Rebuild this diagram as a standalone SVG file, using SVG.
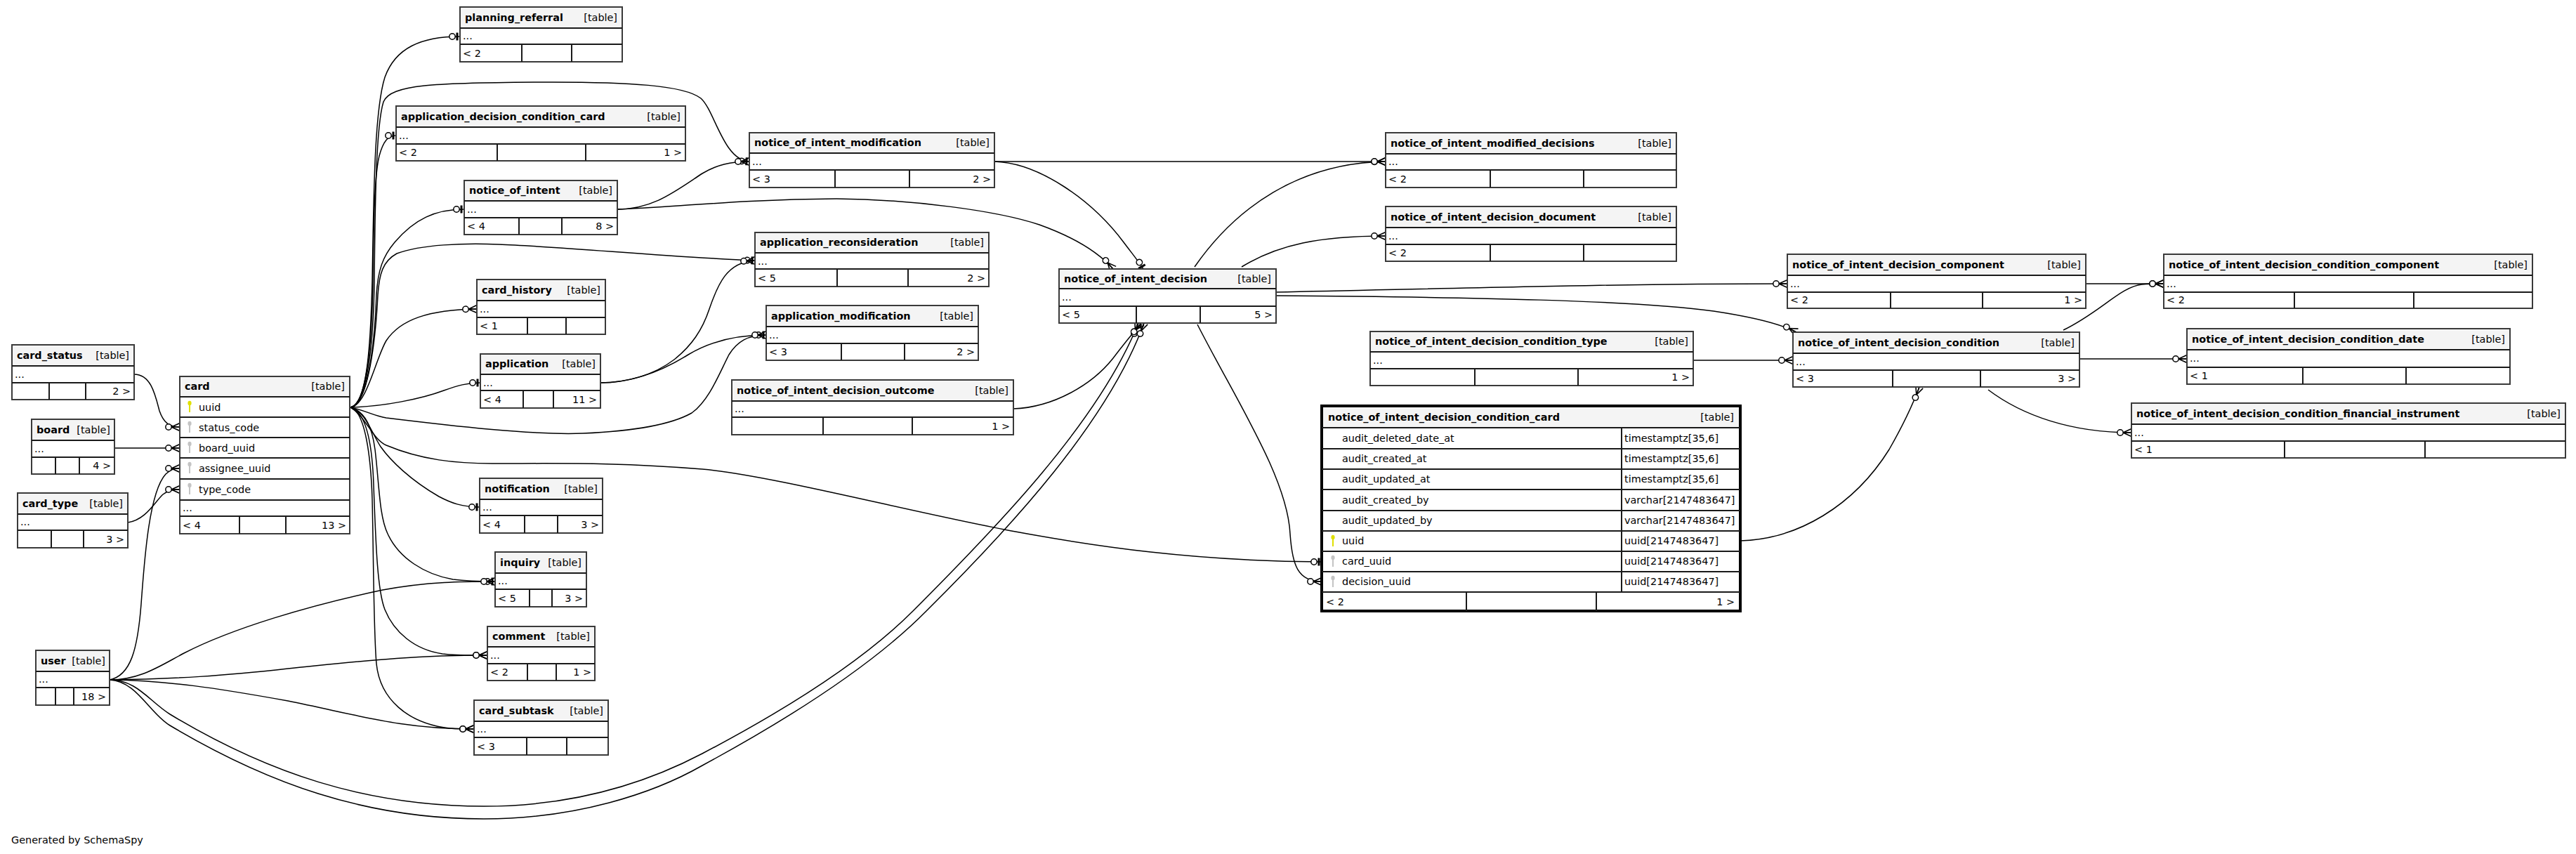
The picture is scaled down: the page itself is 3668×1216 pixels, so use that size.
<svg xmlns="http://www.w3.org/2000/svg" width="3668" height="1216" viewBox="0 0 3668 1216">
<style>
.box{fill:#fff;stroke:#3a3a3a;stroke-width:2}
.sel{fill:#fff;stroke:#000;stroke-width:4}
.hdr{fill:#f4f4f4}
.ln{stroke:#1a1a1a;stroke-width:2}
.t{font-family:"DejaVu Sans",sans-serif;font-size:14.4px;fill:#000}
.b{font-weight:bold}
.r{text-anchor:end}
.e{fill:none;stroke:#000;stroke-width:1.5}
.pk{fill:#e0e000}
.fk{fill:#c4c4c4}
</style>
<defs>
<marker id="crow" markerUnits="userSpaceOnUse" orient="auto" overflow="visible" markerWidth="1" markerHeight="1" refX="0" refY="0">
<path d="M-12,0 L0,-5.5 M-12,0 L0,0 M-12,0 L0,5.5" fill="none" stroke="#000" stroke-width="1.6"/>
<circle cx="-16" cy="0" r="4.2" fill="#fff" stroke="#000" stroke-width="1.5"/>
</marker>
<marker id="tee" markerUnits="userSpaceOnUse" orient="auto" overflow="visible" markerWidth="1" markerHeight="1" refX="0" refY="0">
<path d="M-4,-5.5 L-4,5.5" fill="none" stroke="#000" stroke-width="3"/>
<circle cx="-11" cy="0" r="4.2" fill="#fff" stroke="#000" stroke-width="1.5"/>
</marker>
</defs>
<rect x="0" y="0" width="3668" height="1216" fill="#fff"/>

<g id="connectors">
<path class="e" marker-end="url(#tee)" d="M499,580 C524,576 528,480 530,400 C532,300 532,160 548,110 C563,68 600,52 655,52"/>
<path class="e" marker-end="url(#tee)" d="M499,580 C523,576 530,480 531,400 C532,320 533,250 540,222 C546,200 553,193 564,193"/>
<path class="e" marker-end="url(#tee)" d="M499,580 C524,576 532,480 533,400 C534,300 535,180 546,145 C556,120 620,118 760,117 C900,116 975,122 998,140 C1018,158 1030,228 1067,230"/>
<path class="e" marker-end="url(#tee)" d="M499,580 C525,576 534,480 536,420 C538,385 545,365 562,345 C590,312 620,298 661,298"/>
<path class="e" marker-end="url(#tee)" d="M499,580 C525,576 535,480 538,420 C540,390 545,372 565,361 C600,348 660,346 710,348 C800,351 950,366 1075,371"/>
<path class="e" marker-end="url(#crow)" d="M499,580 C522,578 535,510 550,485 C570,455 610,441 679,440"/>
<path class="e" marker-end="url(#tee)" d="M499,580 C545,579 600,568 632,556 C652,549 665,545 684,545"/>
<path class="e" marker-end="url(#tee)" d="M499,580 C522,585 532,592 550,595 C640,606 760,620 830,617 C900,614 955,605 985,588 C1010,570 1025,530 1038,505 C1050,486 1065,477 1091,477"/>
<path class="e" marker-end="url(#tee)" d="M499,580 C520,592 530,625 550,634 C600,655 650,660 701,660 C800,660 880,658 1000,668 C1100,677 1300,730 1446,757 C1560,778 1700,799 1882,800"/>
<path class="e" marker-end="url(#tee)" d="M499,580 C520,585 530,618 542,636 C556,656 585,684 625,707 C642,716 658,722 683,722"/>
<path class="e" marker-end="url(#tee)" d="M499,580 C521,586 530,610 534,640 C540,690 540,735 552,760 C568,795 605,818 645,825 C668,828 685,828 705,828"/>
<path class="e" marker-end="url(#crow)" d="M499,580 C521,586 530,630 532,690 C535,770 537,840 548,868 C561,900 590,925 630,931 C655,934 675,933 694,933"/>
<path class="e" marker-end="url(#crow)" d="M499,580 C520,586 528,650 530,710 C532,800 532,900 536,945 C541,995 580,1030 640,1037 C655,1038 665,1038 675,1038"/>
<path class="e" marker-end="url(#crow)" d="M191,533 C215,533 221,562 227,585 C233,602 241,608 256,608"/>
<path class="e" marker-end="url(#crow)" d="M163,638 L256,638"/>
<path class="e" marker-end="url(#crow)" d="M182,744 C208,740 220,715 232,704 C240,698 246,697 256,697"/>
<path class="e" marker-end="url(#crow)" d="M156,968 C186,962 196,925 201,860 C206,790 213,700 236,675 C243,668 249,667 256,667"/>
<path class="e" marker-end="url(#crow)" d="M156,968 C200,968 228,948 262,930 C330,895 440,862 545,840 C610,828 660,828 705,828"/>
<path class="e" marker-end="url(#crow)" d="M156,968 C250,967 320,962 410,952 C510,942 580,933 694,933"/>
<path class="e" marker-end="url(#crow)" d="M156,968 C240,969 310,980 410,998 C510,1018 570,1038 675,1038"/>
<path class="e" marker-end="url(#crow)" d="M156,968 C195,968 212,998 242,1017 C380,1100 520,1148 689,1148 C820,1148 920,1115 1000,1073 C1120,1010 1230,940 1300,870 C1420,750 1565,600 1621,460"/>
<path class="e" marker-end="url(#crow)" d="M156,968 C195,970 212,1015 242,1033 C380,1115 520,1166 689,1166 C820,1166 930,1130 1000,1090 C1120,1025 1240,950 1319,870 C1440,750 1578,600 1629,460"/>
<path class="e" marker-end="url(#crow)" d="M1443,582 C1500,580 1555,548 1585,510 C1600,490 1615,472 1625,460"/>
<path class="e" marker-end="url(#crow)" d="M1705,462 C1760,570 1833,680 1837,760 C1840,805 1848,828 1882,828"/>
<path class="e" marker-end="url(#crow)" d="M1701,380 C1760,295 1850,232 1973,230"/>
<path class="e" marker-end="url(#crow)" d="M1416,230 L1973,230"/>
<path class="e" marker-end="url(#tee)" d="M1416,230 C1480,232 1555,285 1600,345 C1612,361 1622,373 1628,383"/>
<path class="e" marker-end="url(#crow)" d="M879,298 C950,296 1050,284 1191,283 C1300,284 1420,300 1480,320 C1530,338 1563,358 1585,383"/>
<path class="e" marker-end="url(#crow)" d="M879,298 C930,298 962,272 1000,247 C1020,235 1040,230 1067,230"/>
<path class="e" marker-end="url(#crow)" d="M1768,380 C1820,348 1880,336 1973,336"/>
<path class="e" marker-end="url(#crow)" d="M1817,416 C2100,410 2300,404 2545,404"/>
<path class="e" marker-end="url(#crow)" d="M1817,421 C2100,423 2330,428 2440,443 C2500,452 2535,461 2558,473"/>
<path class="e" marker-end="url(#crow)" d="M2411,513 L2553,513"/>
<path class="e" marker-end="url(#crow)" d="M2970,404 L3081,404"/>
<path class="e" marker-end="url(#crow)" d="M2938,470 C2990,445 3020,408 3050,405 C3060,404 3070,404 3081,404"/>
<path class="e" marker-end="url(#crow)" d="M2961,511 L3114,511"/>
<path class="e" marker-end="url(#crow)" d="M2831,555 C2880,592 2950,616 3035,616"/>
<path class="e" marker-end="url(#crow)" d="M2478,770 C2560,768 2640,720 2690,640 C2710,605 2724,575 2733,551"/>
<path class="e" marker-end="url(#crow)" d="M855,545 C890,545 930,535 960,512 C985,492 1000,470 1010,440 C1022,405 1035,373 1075,371"/>
<path class="e" marker-end="url(#crow)" d="M855,545 C900,545 940,530 980,505 C1010,487 1045,477 1091,477"/>
</g>

<g id="planning_referral">
<rect class="box" x="655" y="10" width="231" height="78"/><rect class="hdr" x="656" y="11" width="229" height="29"/>
<line class="ln" x1="655" y1="40" x2="886" y2="40"/><line class="ln" x1="655" y1="63" x2="886" y2="63"/>
<line class="ln" x1="743" y1="63" x2="743" y2="88"/><line class="ln" x1="814" y1="63" x2="814" y2="88"/>
<text class="t b" x="662" y="30">planning_referral</text><text class="t r" x="879" y="30">[table]</text>
<text class="t" x="659" y="56">...</text><text class="t" x="659" y="81">&lt; 2</text>
</g>

<g id="application_decision_condition_card">
<rect class="box" x="564" y="151" width="412" height="78"/><rect class="hdr" x="565" y="152" width="410" height="29"/>
<line class="ln" x1="564" y1="181" x2="976" y2="181"/><line class="ln" x1="564" y1="205" x2="976" y2="205"/>
<line class="ln" x1="708" y1="205" x2="708" y2="229"/><line class="ln" x1="834" y1="205" x2="834" y2="229"/>
<text class="t b" x="571" y="171">application_decision_condition_card</text><text class="t r" x="969" y="171">[table]</text>
<text class="t" x="568" y="198">...</text><text class="t" x="568" y="222">&lt; 2</text><text class="t r" x="971" y="222">1 &gt;</text>
</g>

<g id="notice_of_intent">
<rect class="box" x="661" y="257" width="218" height="77"/><rect class="hdr" x="662" y="258" width="216" height="28"/>
<line class="ln" x1="661" y1="286" x2="879" y2="286"/><line class="ln" x1="661" y1="310" x2="879" y2="310"/>
<line class="ln" x1="739" y1="310" x2="739" y2="334"/><line class="ln" x1="800" y1="310" x2="800" y2="334"/>
<text class="t b" x="668" y="276">notice_of_intent</text><text class="t r" x="872" y="276">[table]</text>
<text class="t" x="665" y="303">...</text><text class="t" x="665" y="327">&lt; 4</text><text class="t r" x="874" y="327">8 &gt;</text>
</g>

<g id="card_history">
<rect class="box" x="679" y="398" width="183" height="78"/><rect class="hdr" x="680" y="399" width="181" height="29"/>
<line class="ln" x1="679" y1="428" x2="862" y2="428"/><line class="ln" x1="679" y1="452" x2="862" y2="452"/>
<line class="ln" x1="751" y1="452" x2="751" y2="476"/><line class="ln" x1="806" y1="452" x2="806" y2="476"/>
<text class="t b" x="686" y="418">card_history</text><text class="t r" x="855" y="418">[table]</text>
<text class="t" x="683" y="445">...</text><text class="t" x="683" y="469">&lt; 1</text>
</g>

<g id="application">
<rect class="box" x="684" y="504" width="171" height="77"/><rect class="hdr" x="685" y="505" width="169" height="28"/>
<line class="ln" x1="684" y1="533" x2="855" y2="533"/><line class="ln" x1="684" y1="556" x2="855" y2="556"/>
<line class="ln" x1="745" y1="556" x2="745" y2="581"/><line class="ln" x1="788" y1="556" x2="788" y2="581"/>
<text class="t b" x="691" y="523">application</text><text class="t r" x="848" y="523">[table]</text>
<text class="t" x="688" y="550">...</text><text class="t" x="688" y="574">&lt; 4</text><text class="t r" x="850" y="574">11 &gt;</text>
</g>

<g id="notification">
<rect class="box" x="683" y="681" width="175" height="78"/><rect class="hdr" x="684" y="682" width="173" height="29"/>
<line class="ln" x1="683" y1="711" x2="858" y2="711"/><line class="ln" x1="683" y1="734" x2="858" y2="734"/>
<line class="ln" x1="747" y1="734" x2="747" y2="759"/><line class="ln" x1="794" y1="734" x2="794" y2="759"/>
<text class="t b" x="690" y="701">notification</text><text class="t r" x="851" y="701">[table]</text>
<text class="t" x="687" y="727">...</text><text class="t" x="687" y="752">&lt; 4</text><text class="t r" x="853" y="752">3 &gt;</text>
</g>

<g id="inquiry">
<rect class="box" x="705" y="786" width="130" height="78"/><rect class="hdr" x="706" y="787" width="128" height="29"/>
<line class="ln" x1="705" y1="816" x2="835" y2="816"/><line class="ln" x1="705" y1="839" x2="835" y2="839"/>
<line class="ln" x1="754" y1="839" x2="754" y2="864"/><line class="ln" x1="786" y1="839" x2="786" y2="864"/>
<text class="t b" x="712" y="806">inquiry</text><text class="t r" x="828" y="806">[table]</text>
<text class="t" x="709" y="832">...</text><text class="t" x="709" y="857">&lt; 5</text><text class="t r" x="830" y="857">3 &gt;</text>
</g>

<g id="comment">
<rect class="box" x="694" y="892" width="153" height="77"/><rect class="hdr" x="695" y="893" width="151" height="28"/>
<line class="ln" x1="694" y1="921" x2="847" y2="921"/><line class="ln" x1="694" y1="945" x2="847" y2="945"/>
<line class="ln" x1="751" y1="945" x2="751" y2="969"/><line class="ln" x1="792" y1="945" x2="792" y2="969"/>
<text class="t b" x="701" y="911">comment</text><text class="t r" x="840" y="911">[table]</text>
<text class="t" x="698" y="938">...</text><text class="t" x="698" y="962">&lt; 2</text><text class="t r" x="842" y="962">1 &gt;</text>
</g>

<g id="card_subtask">
<rect class="box" x="675" y="997" width="191" height="78"/><rect class="hdr" x="676" y="998" width="189" height="29"/>
<line class="ln" x1="675" y1="1027" x2="866" y2="1027"/><line class="ln" x1="675" y1="1050" x2="866" y2="1050"/>
<line class="ln" x1="750" y1="1050" x2="750" y2="1075"/><line class="ln" x1="807" y1="1050" x2="807" y2="1075"/>
<text class="t b" x="682" y="1017">card_subtask</text><text class="t r" x="859" y="1017">[table]</text>
<text class="t" x="679" y="1043">...</text><text class="t" x="679" y="1068">&lt; 3</text>
</g>

<g id="card_status">
<rect class="box" x="17" y="491" width="174" height="78"/><rect class="hdr" x="18" y="492" width="172" height="29"/>
<line class="ln" x1="17" y1="521" x2="191" y2="521"/><line class="ln" x1="17" y1="545" x2="191" y2="545"/>
<line class="ln" x1="70" y1="545" x2="70" y2="569"/><line class="ln" x1="122" y1="545" x2="122" y2="569"/>
<text class="t b" x="24" y="511">card_status</text><text class="t r" x="184" y="511">[table]</text>
<text class="t" x="21" y="538">...</text><text class="t r" x="186" y="562">2 &gt;</text>
</g>

<g id="board">
<rect class="box" x="45" y="597" width="118" height="78"/><rect class="hdr" x="46" y="598" width="116" height="29"/>
<line class="ln" x1="45" y1="627" x2="163" y2="627"/><line class="ln" x1="45" y1="651" x2="163" y2="651"/>
<line class="ln" x1="79" y1="651" x2="79" y2="675"/><line class="ln" x1="113" y1="651" x2="113" y2="675"/>
<text class="t b" x="52" y="617">board</text><text class="t r" x="157" y="617">[table]</text>
<text class="t" x="49" y="644">...</text><text class="t r" x="158" y="668">4 &gt;</text>
</g>

<g id="card_type">
<rect class="box" x="25" y="702" width="157" height="78"/><rect class="hdr" x="26" y="703" width="155" height="29"/>
<line class="ln" x1="25" y1="732" x2="182" y2="732"/><line class="ln" x1="25" y1="755" x2="182" y2="755"/>
<line class="ln" x1="73" y1="755" x2="73" y2="780"/><line class="ln" x1="119" y1="755" x2="119" y2="780"/>
<text class="t b" x="32" y="722">card_type</text><text class="t r" x="175" y="722">[table]</text>
<text class="t" x="29" y="748">...</text><text class="t r" x="177" y="773">3 &gt;</text>
</g>

<g id="user">
<rect class="box" x="51" y="926" width="105" height="78"/><rect class="hdr" x="52" y="927" width="103" height="29"/>
<line class="ln" x1="51" y1="956" x2="156" y2="956"/><line class="ln" x1="51" y1="979" x2="156" y2="979"/>
<line class="ln" x1="79" y1="979" x2="79" y2="1004"/><line class="ln" x1="105" y1="979" x2="105" y2="1004"/>
<text class="t b" x="58" y="946">user</text><text class="t r" x="150" y="946">[table]</text>
<text class="t" x="55" y="972">...</text><text class="t r" x="151" y="997">18 &gt;</text>
</g>

<g id="card">
<rect class="box" x="256" y="536" width="242" height="224"/><rect class="hdr" x="257" y="537" width="240" height="28"/>
<line class="ln" x1="256" y1="565" x2="498" y2="565"/><line class="ln" x1="256" y1="594" x2="498" y2="594"/>
<line class="ln" x1="256" y1="623" x2="498" y2="623"/><line class="ln" x1="256" y1="652" x2="498" y2="652"/>
<line class="ln" x1="256" y1="682" x2="498" y2="682"/><line class="ln" x1="256" y1="712" x2="498" y2="712"/>
<line class="ln" x1="256" y1="735" x2="498" y2="735"/>
<line class="ln" x1="341" y1="735" x2="341" y2="760"/><line class="ln" x1="407" y1="735" x2="407" y2="760"/>
<text class="t b" x="263" y="555">card</text><text class="t r" x="491" y="555">[table]</text>
<ellipse class="pk" cx="270" cy="574" rx="2.6" ry="3.2"/><rect class="pk" x="269" y="576" width="2" height="11"/>
<text class="t" x="283" y="585">uuid</text>
<ellipse class="fk" cx="270" cy="603" rx="2.6" ry="3.2"/><rect class="fk" x="269" y="605" width="2" height="11"/>
<text class="t" x="283" y="614">status_code</text>
<ellipse class="fk" cx="270" cy="632" rx="2.6" ry="3.2"/><rect class="fk" x="269" y="634" width="2" height="11"/>
<text class="t" x="283" y="643">board_uuid</text>
<ellipse class="fk" cx="270" cy="661" rx="2.6" ry="3.2"/><rect class="fk" x="269" y="663" width="2" height="11"/>
<text class="t" x="283" y="672">assignee_uuid</text>
<ellipse class="fk" cx="270" cy="691" rx="2.6" ry="3.2"/><rect class="fk" x="269" y="693" width="2" height="11"/>
<text class="t" x="283" y="702">type_code</text>
<text class="t" x="260" y="728">...</text>
<text class="t" x="260" y="753">&lt; 4</text><text class="t r" x="493" y="753">13 &gt;</text>
</g>

<g id="notice_of_intent_modification">
<rect class="box" x="1067" y="189" width="349" height="78"/><rect class="hdr" x="1068" y="190" width="347" height="28"/>
<line class="ln" x1="1067" y1="218" x2="1416" y2="218"/><line class="ln" x1="1067" y1="242" x2="1416" y2="242"/>
<line class="ln" x1="1189" y1="242" x2="1189" y2="267"/><line class="ln" x1="1295" y1="242" x2="1295" y2="267"/>
<text class="t b" x="1074" y="208">notice_of_intent_modification</text><text class="t r" x="1409" y="208">[table]</text>
<text class="t" x="1071" y="235">...</text><text class="t" x="1071" y="260">&lt; 3</text><text class="t r" x="1411" y="260">2 &gt;</text>
</g>

<g id="application_reconsideration">
<rect class="box" x="1075" y="331" width="333" height="77"/><rect class="hdr" x="1076" y="332" width="331" height="28"/>
<line class="ln" x1="1075" y1="360" x2="1408" y2="360"/><line class="ln" x1="1075" y1="383" x2="1408" y2="383"/>
<line class="ln" x1="1192" y1="383" x2="1192" y2="408"/><line class="ln" x1="1293" y1="383" x2="1293" y2="408"/>
<text class="t b" x="1082" y="350">application_reconsideration</text><text class="t r" x="1401" y="350">[table]</text>
<text class="t" x="1079" y="377">...</text><text class="t" x="1079" y="401">&lt; 5</text><text class="t r" x="1403" y="401">2 &gt;</text>
</g>

<g id="application_modification">
<rect class="box" x="1091" y="435" width="302" height="78"/><rect class="hdr" x="1092" y="436" width="300" height="29"/>
<line class="ln" x1="1091" y1="465" x2="1393" y2="465"/><line class="ln" x1="1091" y1="489" x2="1393" y2="489"/>
<line class="ln" x1="1198" y1="489" x2="1198" y2="513"/><line class="ln" x1="1288" y1="489" x2="1288" y2="513"/>
<text class="t b" x="1098" y="455">application_modification</text><text class="t r" x="1386" y="455">[table]</text>
<text class="t" x="1095" y="482">...</text><text class="t" x="1095" y="506">&lt; 3</text><text class="t r" x="1388" y="506">2 &gt;</text>
</g>

<g id="notice_of_intent_decision_outcome">
<rect class="box" x="1042" y="541" width="401" height="78"/><rect class="hdr" x="1043" y="542" width="399" height="29"/>
<line class="ln" x1="1042" y1="571" x2="1443" y2="571"/><line class="ln" x1="1042" y1="594" x2="1443" y2="594"/>
<line class="ln" x1="1172" y1="594" x2="1172" y2="619"/><line class="ln" x1="1299" y1="594" x2="1299" y2="619"/>
<text class="t b" x="1049" y="561">notice_of_intent_decision_outcome</text><text class="t r" x="1436" y="561">[table]</text>
<text class="t" x="1046" y="587">...</text><text class="t r" x="1438" y="612">1 &gt;</text>
</g>

<g id="notice_of_intent_decision">
<rect class="box" x="1508" y="383" width="309" height="77"/><rect class="hdr" x="1509" y="384" width="307" height="27"/>
<line class="ln" x1="1508" y1="411" x2="1817" y2="411"/><line class="ln" x1="1508" y1="436" x2="1817" y2="436"/>
<line class="ln" x1="1618" y1="436" x2="1618" y2="460"/><line class="ln" x1="1709" y1="436" x2="1709" y2="460"/>
<text class="t b" x="1515" y="402">notice_of_intent_decision</text><text class="t r" x="1810" y="402">[table]</text>
<text class="t" x="1512" y="428">...</text><text class="t" x="1512" y="453">&lt; 5</text><text class="t r" x="1812" y="453">5 &gt;</text>
</g>

<g id="notice_of_intent_modified_decisions">
<rect class="box" x="1973" y="189" width="414" height="78"/><rect class="hdr" x="1974" y="190" width="412" height="29"/>
<line class="ln" x1="1973" y1="219" x2="2387" y2="219"/><line class="ln" x1="1973" y1="242" x2="2387" y2="242"/>
<line class="ln" x1="2122" y1="242" x2="2122" y2="267"/><line class="ln" x1="2255" y1="242" x2="2255" y2="267"/>
<text class="t b" x="1980" y="209">notice_of_intent_modified_decisions</text><text class="t r" x="2380" y="209">[table]</text>
<text class="t" x="1977" y="235">...</text><text class="t" x="1977" y="260">&lt; 2</text>
</g>

<g id="notice_of_intent_decision_document">
<rect class="box" x="1973" y="294" width="414" height="78"/><rect class="hdr" x="1974" y="295" width="412" height="29"/>
<line class="ln" x1="1973" y1="324" x2="2387" y2="324"/><line class="ln" x1="1973" y1="348" x2="2387" y2="348"/>
<line class="ln" x1="2122" y1="348" x2="2122" y2="372"/><line class="ln" x1="2255" y1="348" x2="2255" y2="372"/>
<text class="t b" x="1980" y="314">notice_of_intent_decision_document</text><text class="t r" x="2380" y="314">[table]</text>
<text class="t" x="1977" y="341">...</text><text class="t" x="1977" y="365">&lt; 2</text>
</g>

<g id="notice_of_intent_decision_condition_type">
<rect class="box" x="1951" y="472" width="460" height="77"/><rect class="hdr" x="1952" y="473" width="458" height="28"/>
<line class="ln" x1="1951" y1="501" x2="2411" y2="501"/><line class="ln" x1="1951" y1="525" x2="2411" y2="525"/>
<line class="ln" x1="2100" y1="525" x2="2100" y2="549"/><line class="ln" x1="2247" y1="525" x2="2247" y2="549"/>
<text class="t b" x="1958" y="491">notice_of_intent_decision_condition_type</text><text class="t r" x="2404" y="491">[table]</text>
<text class="t" x="1955" y="518">...</text><text class="t r" x="2406" y="542">1 &gt;</text>
</g>

<g id="notice_of_intent_decision_condition_card">
<rect class="sel" x="1882" y="578" width="596" height="292"/><rect class="hdr" x="1884" y="580" width="592" height="29"/>
<line class="ln" x1="1882" y1="609" x2="2478" y2="609"/><line class="ln" x1="1882" y1="639" x2="2478" y2="639"/>
<line class="ln" x1="1882" y1="668" x2="2478" y2="668"/><line class="ln" x1="1882" y1="697" x2="2478" y2="697"/>
<line class="ln" x1="1882" y1="727" x2="2478" y2="727"/><line class="ln" x1="1882" y1="756" x2="2478" y2="756"/>
<line class="ln" x1="1882" y1="785" x2="2478" y2="785"/><line class="ln" x1="1882" y1="814" x2="2478" y2="814"/>
<line class="ln" x1="1882" y1="843" x2="2478" y2="843"/>
<line class="ln" x1="2309" y1="609" x2="2309" y2="843"/>
<line class="ln" x1="2088" y1="843" x2="2088" y2="870"/><line class="ln" x1="2273" y1="843" x2="2273" y2="870"/>
<text class="t b" x="1891" y="599">notice_of_intent_decision_condition_card</text><text class="t r" x="2469" y="599">[table]</text>
<text class="t" x="1911" y="629">audit_deleted_date_at</text><text class="t" x="2313" y="629">timestamptz[35,6]</text>
<text class="t" x="1911" y="658">audit_created_at</text><text class="t" x="2313" y="658">timestamptz[35,6]</text>
<text class="t" x="1911" y="687">audit_updated_at</text><text class="t" x="2313" y="687">timestamptz[35,6]</text>
<text class="t" x="1911" y="717">audit_created_by</text><text class="t" x="2313" y="717">varchar[2147483647]</text>
<text class="t" x="1911" y="746">audit_updated_by</text><text class="t" x="2313" y="746">varchar[2147483647]</text>
<ellipse class="pk" cx="1898" cy="765" rx="2.6" ry="3.2"/><rect class="pk" x="1897" y="767" width="2" height="11"/>
<text class="t" x="1911" y="775">uuid</text><text class="t" x="2313" y="775">uuid[2147483647]</text>
<ellipse class="fk" cx="1898" cy="794" rx="2.6" ry="3.2"/><rect class="fk" x="1897" y="796" width="2" height="11"/>
<text class="t" x="1911" y="804">card_uuid</text><text class="t" x="2313" y="804">uuid[2147483647]</text>
<ellipse class="fk" cx="1898" cy="823" rx="2.6" ry="3.2"/><rect class="fk" x="1897" y="825" width="2" height="11"/>
<text class="t" x="1911" y="833">decision_uuid</text><text class="t" x="2313" y="833">uuid[2147483647]</text>
<text class="t" x="1888" y="862">&lt; 2</text><text class="t r" x="2470" y="862">1 &gt;</text>
</g>

<g id="notice_of_intent_decision_component">
<rect class="box" x="2545" y="362" width="425" height="77"/><rect class="hdr" x="2546" y="363" width="423" height="29"/>
<line class="ln" x1="2545" y1="392" x2="2970" y2="392"/><line class="ln" x1="2545" y1="416" x2="2970" y2="416"/>
<line class="ln" x1="2692" y1="416" x2="2692" y2="439"/><line class="ln" x1="2823" y1="416" x2="2823" y2="439"/>
<text class="t b" x="2552" y="382">notice_of_intent_decision_component</text><text class="t r" x="2963" y="382">[table]</text>
<text class="t" x="2549" y="409">...</text><text class="t" x="2549" y="432">&lt; 2</text><text class="t r" x="2965" y="432">1 &gt;</text>
</g>

<g id="notice_of_intent_decision_condition_component">
<rect class="box" x="3081" y="362" width="525" height="77"/><rect class="hdr" x="3082" y="363" width="523" height="29"/>
<line class="ln" x1="3081" y1="392" x2="3606" y2="392"/><line class="ln" x1="3081" y1="416" x2="3606" y2="416"/>
<line class="ln" x1="3267" y1="416" x2="3267" y2="439"/><line class="ln" x1="3437" y1="416" x2="3437" y2="439"/>
<text class="t b" x="3088" y="382">notice_of_intent_decision_condition_component</text><text class="t r" x="3599" y="382">[table]</text>
<text class="t" x="3085" y="409">...</text><text class="t" x="3085" y="432">&lt; 2</text>
</g>

<g id="notice_of_intent_decision_condition">
<rect class="box" x="2553" y="473" width="408" height="78"/><rect class="hdr" x="2554" y="474" width="406" height="29"/>
<line class="ln" x1="2553" y1="503" x2="2961" y2="503"/><line class="ln" x1="2553" y1="527" x2="2961" y2="527"/>
<line class="ln" x1="2695" y1="527" x2="2695" y2="551"/><line class="ln" x1="2820" y1="527" x2="2820" y2="551"/>
<text class="t b" x="2560" y="493">notice_of_intent_decision_condition</text><text class="t r" x="2954" y="493">[table]</text>
<text class="t" x="2557" y="520">...</text><text class="t" x="2557" y="544">&lt; 3</text><text class="t r" x="2956" y="544">3 &gt;</text>
</g>

<g id="notice_of_intent_decision_condition_date">
<rect class="box" x="3114" y="468" width="460" height="79"/><rect class="hdr" x="3115" y="469" width="458" height="29"/>
<line class="ln" x1="3114" y1="498" x2="3574" y2="498"/><line class="ln" x1="3114" y1="523" x2="3574" y2="523"/>
<line class="ln" x1="3279" y1="523" x2="3279" y2="547"/><line class="ln" x1="3426" y1="523" x2="3426" y2="547"/>
<text class="t b" x="3121" y="488">notice_of_intent_decision_condition_date</text><text class="t r" x="3567" y="488">[table]</text>
<text class="t" x="3118" y="515">...</text><text class="t" x="3118" y="540">&lt; 1</text>
</g>

<g id="notice_of_intent_decision_condition_financial_instrument">
<rect class="box" x="3035" y="574" width="618" height="78"/><rect class="hdr" x="3036" y="575" width="616" height="29"/>
<line class="ln" x1="3035" y1="604" x2="3653" y2="604"/><line class="ln" x1="3035" y1="628" x2="3653" y2="628"/>
<line class="ln" x1="3253" y1="628" x2="3253" y2="652"/><line class="ln" x1="3453" y1="628" x2="3453" y2="652"/>
<text class="t b" x="3042" y="594">notice_of_intent_decision_condition_financial_instrument</text><text class="t r" x="3646" y="594">[table]</text>
<text class="t" x="3039" y="621">...</text><text class="t" x="3039" y="645">&lt; 1</text>
</g>

<text class="t" x="16" y="1201">Generated by SchemaSpy</text>
</svg>
